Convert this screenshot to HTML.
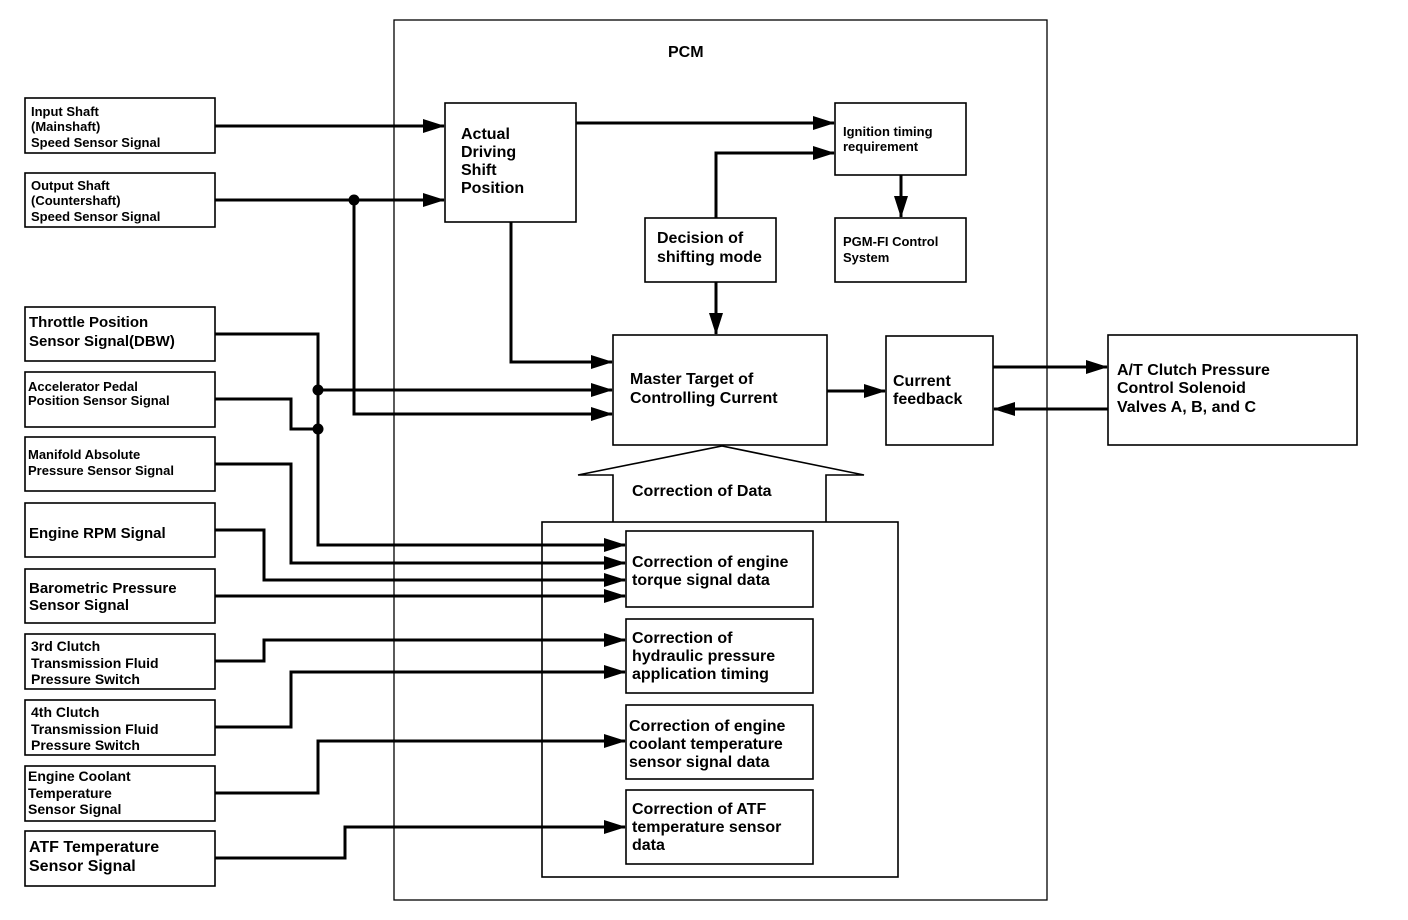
<!DOCTYPE html>
<html><head><meta charset="utf-8"><style>
html,body{margin:0;padding:0;background:#fff;}
svg{display:block;}
text{font-family:"Liberation Sans",sans-serif;font-weight:bold;fill:#000;}
.b{fill:none;stroke:#000;stroke-width:1.6;}
.t{fill:none;stroke:#000;stroke-width:1.3;}
.l{fill:none;stroke:#000;stroke-width:3;}
</style></head><body>
<svg width="1408" height="920" viewBox="0 0 1408 920" xmlns="http://www.w3.org/2000/svg">
<defs>
<marker id="ab" markerWidth="22" markerHeight="14" refX="21" refY="7" orient="auto" markerUnits="userSpaceOnUse" viewBox="0 0 22 14">
<path d="M0,0 L22,7 L0,14 z" fill="#000"/></marker>
</defs>

<rect class="t" x="394" y="20" width="653" height="880"/>
<text x="668" y="57" font-size="16">PCM</text>

<g class="b">
<rect x="25" y="98" width="190" height="55"/>
<rect x="25" y="173" width="190" height="54"/>
<rect x="25" y="307" width="190" height="54"/>
<rect x="25" y="372" width="190" height="55"/>
<rect x="25" y="437" width="190" height="54"/>
<rect x="25" y="503" width="190" height="54"/>
<rect x="25" y="569" width="190" height="54"/>
<rect x="25" y="634" width="190" height="55"/>
<rect x="25" y="700" width="190" height="55"/>
<rect x="25" y="766" width="190" height="55"/>
<rect x="25" y="831" width="190" height="55"/>
</g>
<g font-size="13">
<text x="31" y="116">Input Shaft</text><text x="31" y="131">(Mainshaft)</text><text x="31" y="147">Speed Sensor Signal</text>
<text x="31" y="190">Output Shaft</text><text x="31" y="205">(Countershaft)</text><text x="31" y="221">Speed Sensor Signal</text>
<text x="28" y="405">Position Sensor Signal</text><text x="28" y="391">Accelerator Pedal</text>
<text x="28" y="459">Manifold Absolute</text><text x="28" y="475">Pressure Sensor Signal</text>
</g>
<g font-size="15">
<text x="29" y="327">Throttle Position</text><text x="29" y="346">Sensor Signal(DBW)</text>
<text x="29" y="538">Engine RPM Signal</text>
<text x="29" y="593">Barometric Pressure</text><text x="29" y="610">Sensor Signal</text>
<text x="29" y="871" font-size="16">Sensor Signal</text><text x="29" y="852" font-size="16">ATF Temperature</text>
</g>
<g font-size="14">
<text x="31" y="651">3rd Clutch</text><text x="31" y="668">Transmission Fluid</text><text x="31" y="684">Pressure Switch</text>
<text x="31" y="717">4th Clutch</text><text x="31" y="734">Transmission Fluid</text><text x="31" y="750">Pressure Switch</text>
<text x="28" y="781">Engine Coolant</text><text x="28" y="798">Temperature</text><text x="28" y="814">Sensor Signal</text>
</g>

<g class="b">
<rect x="445" y="103" width="131" height="119"/>
<rect x="835" y="103" width="131" height="72"/>
<rect x="835" y="218" width="131" height="64"/>
<rect x="645" y="218" width="131" height="64"/>
<rect x="613" y="335" width="214" height="110"/>
<rect x="886" y="336" width="107" height="109"/>
<rect x="1108" y="335" width="249" height="110"/>
<rect x="542" y="522" width="356" height="355"/>
<rect x="626" y="531" width="187" height="76"/>
<rect x="626" y="619" width="187" height="74"/>
<rect x="626" y="705" width="187" height="74"/>
<rect x="626" y="790" width="187" height="74"/>
</g>
<path class="b" d="M613,522 L613,475 L578,475 L722,446 L864,475 L826,475 L826,522" fill="#fff"/>

<g font-size="16">
<text x="461" y="139">Actual</text><text x="461" y="157">Driving</text><text x="461" y="175">Shift</text><text x="461" y="193">Position</text>
<text x="657" y="243">Decision of</text><text x="657" y="262">shifting mode</text>
<text x="630" y="384">Master Target of</text><text x="630" y="403">Controlling Current</text>
<text x="893" y="386">Current</text><text x="893" y="404">feedback</text>
<text x="1117" y="375">A/T Clutch Pressure</text><text x="1117" y="393">Control Solenoid</text><text x="1117" y="412">Valves A, B, and C</text>
<text x="632" y="496">Correction of Data</text>
<text x="632" y="567">Correction of engine</text><text x="632" y="585">torque signal data</text>
<text x="632" y="643">Correction of</text><text x="632" y="661">hydraulic pressure</text><text x="632" y="679">application timing</text>
<text x="629" y="731">Correction of engine</text><text x="629" y="749">coolant temperature</text><text x="629" y="767">sensor signal data</text>
<text x="632" y="814">Correction of ATF</text><text x="632" y="832">temperature sensor</text><text x="632" y="850">data</text>
</g>
<g font-size="13">
<text x="843" y="136">Ignition timing</text><text x="843" y="151">requirement</text>
<text x="843" y="246">PGM-FI Control</text><text x="843" y="262">System</text>
</g>

<g class="l" marker-end="url(#ab)">
<path d="M215,126 H444"/>
<path d="M215,200 H444"/>
<path d="M354,200 V414 H612"/>
<path d="M576,123 H834"/>
<path d="M511,222 V362 H612"/>
<path d="M716,218 V153 H834"/>
<path d="M901,175 V217"/>
<path d="M716,282 V334"/>
<path d="M827,391 H885"/>
<path d="M993,367 H1107"/>
<path d="M1108,409 H994"/>
<path d="M318,390 H612"/>
<path d="M215,334 H318 V545 H625"/>
<path d="M215,464 H291 V563 H625"/>
<path d="M215,530 H264 V580 H625"/>
<path d="M215,596 H625"/>
<path d="M215,661 H264 V640 H625"/>
<path d="M215,727 H291 V672 H625"/>
<path d="M215,793 H318 V741 H625"/>
<path d="M215,858 H345 V827 H625"/>
</g>
<path class="l" d="M215,399 H291 V429 H318"/>
<circle cx="354" cy="200" r="5.5"/>
<circle cx="318" cy="390" r="5.5"/>
<circle cx="318" cy="429" r="5.5"/>
</svg>
</body></html>
